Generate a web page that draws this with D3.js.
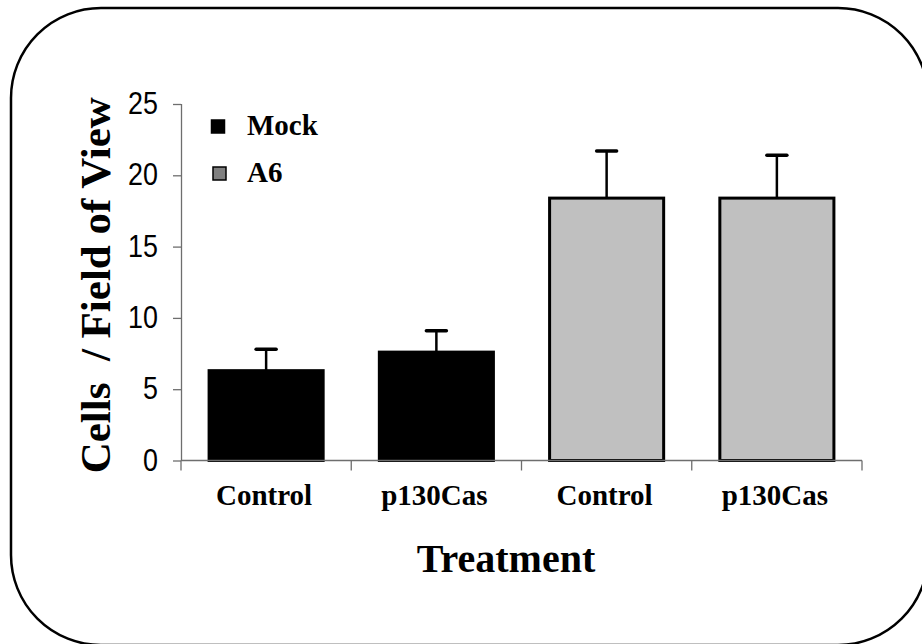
<!DOCTYPE html>
<html>
<head>
<meta charset="utf-8">
<script src="https://cdn.jsdelivr.net/npm/d3@7"></script>
<style>
  html, body { margin: 0; padding: 0; background: #fff; }
  svg { display: block; }
</style>
</head>
<body>
<svg id="chart" width="922" height="644"></svg>
<script>
const categories = ["Control", "p130Cas", "Control", "p130Cas"];
const groups = ["Mock", "Mock", "A6", "A6"];
const means = [6.3, 7.6, 18.4, 18.4];
const errors = [1.5, 1.5, 3.3, 3.0];
const yTicks = [0, 5, 10, 15, 20, 25];
const legendLabels = ["Mock", "A6"];

const svg = d3.select("#chart");

// rounded frame
svg.append("rect")
  .attr("x", 11).attr("y", 8)
  .attr("width", 917).attr("height", 637)
  .attr("rx", 90).attr("ry", 90)
  .attr("fill", "none").attr("stroke", "#000").attr("stroke-width", 2.5);

const plot = { left: 181, right: 862, top: 104, bottom: 460.5 };

const x = d3.scaleBand()
  .domain(d3.range(categories.length))
  .range([plot.left, plot.right])
  .paddingInner(0.33).paddingOuter(0.165);

const y = d3.scaleLinear().domain([0, 25]).range([plot.bottom, plot.top]);

const fill = { Mock: "#000000", A6: "#c0c0c0" };
const legendFill = { Mock: "#000000", A6: "#808080" };
const axisColor = "#6e6e6e";
const sans = "'Liberation Sans', Arial, sans-serif";
const serif = "'Liberation Serif', 'Times New Roman', Times, serif";
const squeeze = 0.84;

// y axis
const yAxis = svg.append("g").attr("transform", `translate(${plot.left},0)`)
  .call(d3.axisLeft(y).tickValues(yTicks).tickSize(8).tickPadding(15).tickFormat(d3.format("d")));
yAxis.select(".domain").attr("stroke", axisColor).attr("stroke-width", 1.3).attr("d", `M0.5,${plot.top}V${plot.bottom}`);
yAxis.selectAll(".tick line").attr("stroke", axisColor).attr("stroke-width", 1.3);
yAxis.selectAll(".tick text")
  .attr("fill", "#000")
  .style("font-family", sans)
  .style("font-size", "32px")
  .attr("x", -23 / squeeze)
  .attr("transform", `scale(${squeeze},1)`)
  .attr("dy", "0.3em");

// bars
svg.append("g").selectAll("rect")
  .data(means)
  .join("rect")
  .attr("x", (d, i) => x(i))
  .attr("y", d => y(d))
  .attr("width", x.bandwidth())
  .attr("height", d => y(0) - y(d))
  .attr("fill", (d, i) => fill[groups[i]])
  .attr("stroke", "#000")
  .attr("stroke-width", 3);

// error bars (upper only)
const eb = svg.append("g");
means.forEach((m, i) => {
  const cx = x(i) + x.bandwidth() / 2;
  eb.append("line")
    .attr("x1", cx).attr("x2", cx)
    .attr("y1", y(m)).attr("y2", y(m + errors[i]))
    .attr("stroke", "#000").attr("stroke-width", 2.5);
  eb.append("line")
    .attr("x1", cx - 10).attr("x2", cx + 10)
    .attr("y1", y(m + errors[i])).attr("y2", y(m + errors[i]))
    .attr("stroke", "#000").attr("stroke-width", 3.5).attr("stroke-linecap", "round");
});

// x axis
const xg = svg.append("g");
xg.append("line")
  .attr("x1", plot.left).attr("x2", plot.right)
  .attr("y1", plot.bottom).attr("y2", plot.bottom)
  .attr("stroke", axisColor).attr("stroke-width", 1.3);
xg.selectAll("line.tk")
  .data(d3.range(categories.length + 1))
  .join("line")
  .attr("class", "tk")
  .attr("x1", i => x(0) - x.step() * x.paddingOuter() + i * x.step())
  .attr("x2", i => x(0) - x.step() * x.paddingOuter() + i * x.step())
  .attr("y1", plot.bottom).attr("y2", plot.bottom + 10)
  .attr("stroke", axisColor).attr("stroke-width", 1.3);
xg.selectAll("text")
  .data(categories)
  .join("text")
  .attr("x", (d, i) => x(i) + x.bandwidth() / 2 - 2)
  .attr("y", 505)
  .attr("text-anchor", "middle")
  .style("font-family", serif)
  .style("font-weight", "bold")
  .style("font-size", "29px")
  .text(d => d);

// axis titles
svg.append("text")
  .attr("transform", `translate(110,${(plot.top + plot.bottom) / 2 + 3}) rotate(-90)`)
  .attr("text-anchor", "middle")
  .style("font-family", serif)
  .style("font-weight", "bold")
  .style("font-size", "43px")
  .style("white-space", "pre")
  .text("Cells  / Field of View");

svg.append("text")
  .attr("x", 506).attr("y", 572)
  .attr("text-anchor", "middle")
  .style("font-family", serif)
  .style("font-weight", "bold")
  .style("font-size", "40px")
  .text("Treatment");

// legend
const lg = svg.append("g");
legendLabels.forEach((name, i) => {
  const yy = 120 + i * 47;
  lg.append("rect")
    .attr("x", 211.5 + i * 1.5).attr("y", yy)
    .attr("width", 13).attr("height", 13)
    .attr("fill", legendFill[name])
    .attr("stroke", "#000").attr("stroke-width", 1.5);
  lg.append("text")
    .attr("x", 247).attr("y", yy + 15)
    .style("font-family", serif)
    .style("font-weight", "bold")
    .style("font-size", "29px")
    .text(name);
});
</script>
</body>
</html>
